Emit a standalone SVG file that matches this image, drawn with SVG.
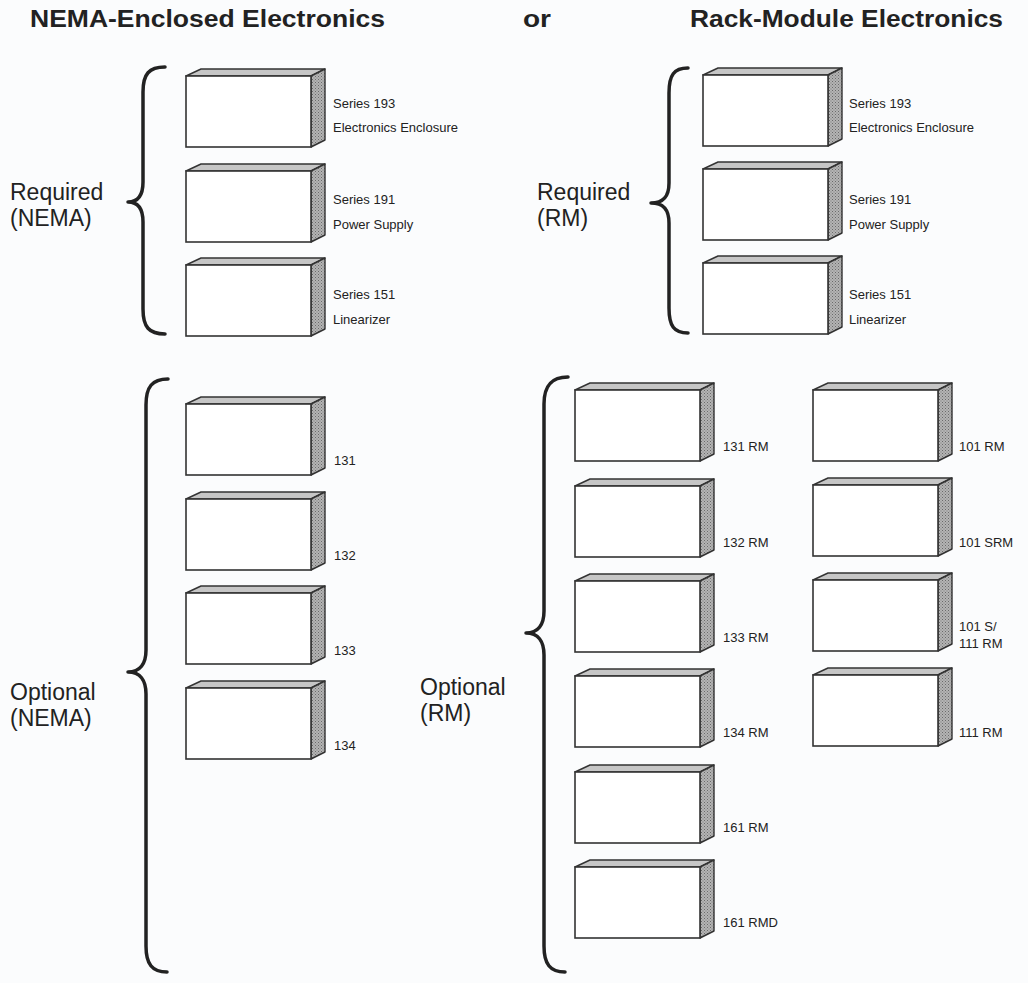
<svg xmlns="http://www.w3.org/2000/svg" xmlns:xlink="http://www.w3.org/1999/xlink" width="1028" height="983" viewBox="0 0 1028 983">
<defs>
<pattern id="stipple" width="3" height="3" patternUnits="userSpaceOnUse">
<rect width="3" height="3" fill="#b4b4b4"/>
<rect x="0" y="0" width="1" height="1" fill="#6a6a6a"/>
<rect x="1.5" y="1.5" width="1" height="1" fill="#7a7a7a"/>
</pattern>
<g id="box">
<polygon class="top" points="0,0 15,-7 139,-7 125,0"/>
<polygon class="side" points="125,0 139,-7 139,64 125,71"/>
<rect class="front" x="0" y="0" width="125" height="71"/>
</g>
</defs>
<style>
.top{fill:#c6c6c6;stroke:#333;stroke-width:1.4;stroke-linejoin:round}
.side{fill:url(#stipple);stroke:#333;stroke-width:1.4;stroke-linejoin:round}
.front{fill:#ffffff;stroke:#333;stroke-width:1.6}
.lbl{font-family:"Liberation Sans",Arial,sans-serif;font-size:13px;fill:#222}
.grp{font-family:"Liberation Sans",Arial,sans-serif;font-size:23px;fill:#222}
.ttl{font-family:"Liberation Sans",Arial,sans-serif;font-size:23px;font-weight:bold;fill:#222}
.brace{fill:none;stroke:#222;stroke-width:3.5;stroke-linecap:round;stroke-linejoin:round}
</style>
<rect width="1028" height="983" fill="#fbfcfd"/>

<g id="titles">
<text class="ttl" x="30" y="27" textLength="355" lengthAdjust="spacingAndGlyphs">NEMA-Enclosed Electronics</text>
<text class="ttl" x="523" y="27" textLength="28" lengthAdjust="spacingAndGlyphs">or</text>
<text class="ttl" x="690" y="27" textLength="313" lengthAdjust="spacingAndGlyphs">Rack-Module Electronics</text>
</g>

<g id="group-labels">
<text class="grp" x="10" y="200">Required</text>
<text class="grp" x="10" y="226">(NEMA)</text>
<text class="grp" x="10" y="700">Optional</text>
<text class="grp" x="10" y="726">(NEMA)</text>
<text class="grp" x="537" y="200">Required</text>
<text class="grp" x="537" y="226">(RM)</text>
<text class="grp" x="420" y="695">Optional</text>
<text class="grp" x="420" y="721">(RM)</text>
</g>

<g id="connectors">
<path class="brace" d="M165 67 C149 67 143 74 143 92 L143 182 C143 196 138 202 128 202 C138 202 143 208 143 222 L143 309 C143 327 149 334 165 334"/>
<path class="brace" d="M688 68 C674 68 669 75 669 93 L669 183 C669 197 663 203 651 203 C663 203 669 209 669 223 L669 308 C669 326 674 333 688 333"/>
<path class="brace" d="M168 379 C152 379 146 387 146 405 L146 650 C146 664 140 672 128 672 C140 672 146 680 146 694 L146 946 C146 964 152 972 167 972"/>
<path class="brace" d="M568 377 C551 377 544 386 544 404 L544 611 C544 625 538 633 526 633 C538 633 544 641 544 655 L544 946 C544 964 550 972 565 972"/>
</g>

<g id="n-193"><use href="#box" x="186" y="76"/><text class="lbl" x="333" y="108">Series 193</text><text class="lbl" x="333" y="132">Electronics Enclosure</text></g>
<g id="n-191"><use href="#box" x="186" y="171"/><text class="lbl" x="333" y="204">Series 191</text><text class="lbl" x="333" y="229">Power Supply</text></g>
<g id="n-151"><use href="#box" x="186" y="265"/><text class="lbl" x="333" y="299">Series 151</text><text class="lbl" x="333" y="324">Linearizer</text></g>

<g id="n-131"><use href="#box" x="186" y="404"/><text class="lbl" x="334" y="465">131</text></g>
<g id="n-132"><use href="#box" x="186" y="499"/><text class="lbl" x="334" y="560">132</text></g>
<g id="n-133"><use href="#box" x="186" y="593"/><text class="lbl" x="334" y="655">133</text></g>
<g id="n-134"><use href="#box" x="186" y="688"/><text class="lbl" x="334" y="750">134</text></g>

<g id="n-193rm"><use href="#box" x="703" y="75"/><text class="lbl" x="849" y="108">Series 193</text><text class="lbl" x="849" y="132">Electronics Enclosure</text></g>
<g id="n-191rm"><use href="#box" x="703" y="169"/><text class="lbl" x="849" y="204">Series 191</text><text class="lbl" x="849" y="229">Power Supply</text></g>
<g id="n-151rm"><use href="#box" x="703" y="263"/><text class="lbl" x="849" y="299">Series 151</text><text class="lbl" x="849" y="324">Linearizer</text></g>

<g id="n-131rm"><use href="#box" x="575" y="390"/><text class="lbl" x="723" y="451">131 RM</text></g>
<g id="n-132rm"><use href="#box" x="575" y="486"/><text class="lbl" x="723" y="547">132 RM</text></g>
<g id="n-133rm"><use href="#box" x="575" y="581"/><text class="lbl" x="723" y="642">133 RM</text></g>
<g id="n-134rm"><use href="#box" x="575" y="676"/><text class="lbl" x="723" y="737">134 RM</text></g>
<g id="n-161rm"><use href="#box" x="575" y="772"/><text class="lbl" x="723" y="832">161 RM</text></g>
<g id="n-161rmd"><use href="#box" x="575" y="867"/><text class="lbl" x="723" y="927">161 RMD</text></g>

<g id="n-101rm"><use href="#box" x="813" y="390"/><text class="lbl" x="959" y="451">101 RM</text></g>
<g id="n-101srm"><use href="#box" x="813" y="485"/><text class="lbl" x="959" y="547">101 SRM</text></g>
<g id="n-101s111rm"><use href="#box" x="813" y="580"/><text class="lbl" x="959" y="631">101 S/</text><text class="lbl" x="959" y="648">111 RM</text></g>
<g id="n-111rm"><use href="#box" x="813" y="675"/><text class="lbl" x="959" y="737">111 RM</text></g>
</svg>
